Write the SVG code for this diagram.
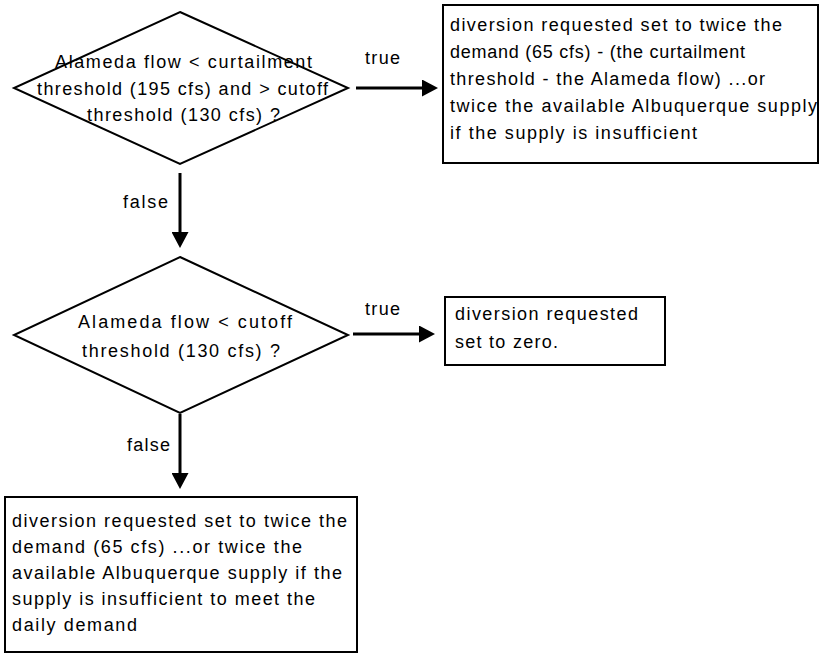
<svg xmlns="http://www.w3.org/2000/svg" width="819" height="654" viewBox="0 0 819 654">
  <style>
    .shape { fill: #ffffff; stroke: #000000; stroke-width: 2; }
    .wire { fill: none; stroke: #000000; stroke-width: 3; }
    text { font-family: "Liberation Sans", Arial, sans-serif; font-size: 18px; fill: #000000; }
    .mid { text-anchor: middle; }
  </style>
  <defs>
    <marker id="head" markerUnits="userSpaceOnUse" markerWidth="16" markerHeight="17" refX="0" refY="8.5" orient="auto">
      <path d="M0,0 L16,8.5 L0,17 Z" fill="#000000"/>
    </marker>
  </defs>

  <rect width="819" height="654" fill="#ffffff"/>

  <!-- decision: curtailment band -->
  <g id="decision-curtailment">
    <polygon class="shape" points="180,12 348,88 180,164 14,88"/>
    <text class="mid" x="183.5" y="68" textLength="257" lengthAdjust="spacing">Alameda flow &lt; curtailment</text>
    <text class="mid" x="182.5" y="95" textLength="291" lengthAdjust="spacing">threshold (195 cfs) and &gt; cutoff</text>
    <text class="mid" x="183.5" y="121" textLength="193" lengthAdjust="spacing">threshold (130 cfs) ?</text>
  </g>

  <!-- action: partial diversion -->
  <g id="action-partial">
    <rect class="shape" x="443" y="5" width="375" height="158"/>
    <text x="450" y="31" textLength="332" lengthAdjust="spacing">diversion requested set to twice the</text>
    <text x="450" y="58" textLength="295" lengthAdjust="spacing">demand (65 cfs) - (the curtailment</text>
    <text x="450" y="85" textLength="315" lengthAdjust="spacing">threshold - the Alameda flow) ...or</text>
    <text x="450" y="112" textLength="367" lengthAdjust="spacing">twice the available Albuquerque supply</text>
    <text x="450" y="139" textLength="247" lengthAdjust="spacing">if the supply is insufficient</text>
  </g>

  <!-- decision: cutoff -->
  <g id="decision-cutoff">
    <polygon class="shape" points="180,257 348,335 180,413 14,335"/>
    <text class="mid" x="185" y="328" textLength="214" lengthAdjust="spacing">Alameda flow &lt; cutoff</text>
    <text class="mid" x="181" y="357" textLength="198" lengthAdjust="spacing">threshold (130 cfs) ?</text>
  </g>

  <!-- action: zero diversion -->
  <g id="action-zero">
    <rect class="shape" x="445" y="297" width="220" height="68"/>
    <text x="455" y="320" textLength="183" lengthAdjust="spacing">diversion requested</text>
    <text x="455" y="348" textLength="103" lengthAdjust="spacing">set to zero.</text>
  </g>

  <!-- action: full diversion -->
  <g id="action-full">
    <rect class="shape" x="5" y="497" width="352" height="155"/>
    <text x="12" y="527" textLength="335" lengthAdjust="spacing">diversion requested set to twice the</text>
    <text x="12" y="553" textLength="290" lengthAdjust="spacing">demand (65 cfs) ...or twice the</text>
    <text x="12" y="579" textLength="330" lengthAdjust="spacing">available Albuquerque supply if the</text>
    <text x="12" y="605" textLength="303" lengthAdjust="spacing">supply is insufficient to meet the</text>
    <text x="12" y="631" textLength="125" lengthAdjust="spacing">daily demand</text>
  </g>

  <!-- connectors -->
  <g id="connectors">
    <path class="wire" d="M356,88 H422" marker-end="url(#head)"/>
    <text x="365" y="64" textLength="35" lengthAdjust="spacing">true</text>

    <path class="wire" d="M180,173 V232" marker-end="url(#head)"/>
    <text x="123" y="208" textLength="45" lengthAdjust="spacing">false</text>

    <path class="wire" d="M353,334 H419" marker-end="url(#head)"/>
    <text x="365" y="315" textLength="35" lengthAdjust="spacing">true</text>

    <path class="wire" d="M180,414 V473" marker-end="url(#head)"/>
    <text x="127" y="451" textLength="43" lengthAdjust="spacing">false</text>
  </g>
</svg>
